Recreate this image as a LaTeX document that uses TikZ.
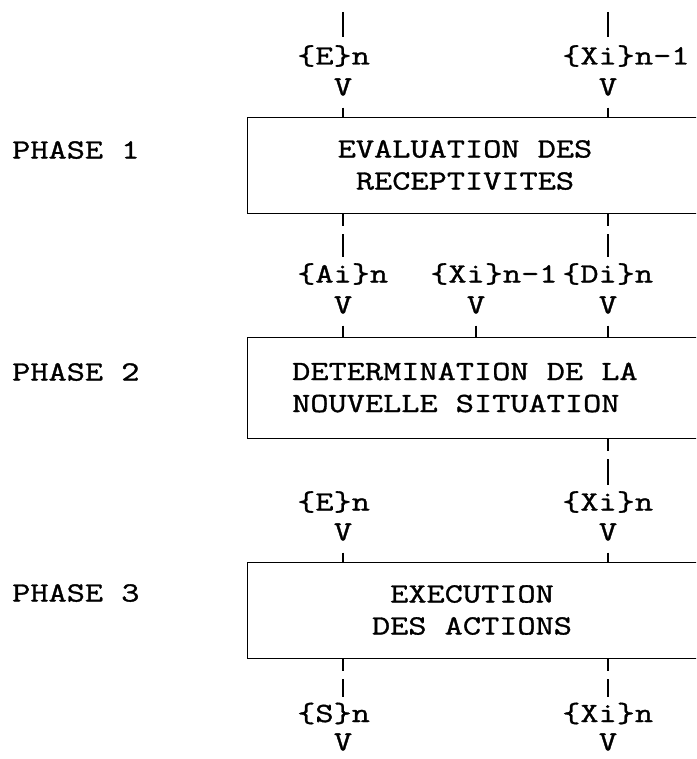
\documentclass[tikz,border=0pt]{standalone}
\usepackage{fontspec}
\setmonofont{Latin Modern Mono}[FakeStretch=1.27,FakeBold=1.2]
\usepackage{tikz}
\usetikzlibrary{arrows,shapes}
\tikzstyle{typed}=[font=\ttfamily\fontsize{27.8pt}{32pt}\selectfont,inner sep=0pt]
\tikzstyle{phase box}=[draw,line width=1.4pt,rectangle,minimum width=500pt,anchor=north west]
\tikzstyle{box text}=[typed,align=center]
\tikzstyle{flow label}=[typed,anchor=base west]
\tikzstyle{vee}=[typed,outer sep=12pt]
\tikzstyle{last vee}=[typed]
\tikzstyle{edge}=[draw,line width=1.5pt,-]
\tikzstyle{broken edge}=[edge,dash pattern=on 12pt off 8pt on 200pt off 10pt,shorten >=6pt]

\begin{document}
\begin{tikzpicture}[x=1pt,y=-1pt]
    \useasboundingbox (0,0) rectangle (696,759);
    \clip (0,0) rectangle (696,759);
    % The three phases, their boxes run off the right side
    \node[phase box,minimum height=96pt] (box1) at (247,117) {};
    \node[phase box,minimum height=101pt] (box2) at (247,337) {};
    \node[phase box,minimum height=96pt] (box3) at (247,562) {};
    \node[box text] (txt1) at (465,165) {EVALUATION DES\\RECEPTIVITES};
    \node[box text,align=left,anchor=west] (txt2) at (292,387.5) {DETERMINATION DE LA\\NOUVELLE SITUATION};
    \node[box text] (txt3) at (472,610) {EXECUTION\\DES ACTIONS};
    \foreach \y/\n in {150/1, 372/2, 593/3}
        \node[typed,anchor=west] (phase\n) at (12,\y) {PHASE \n};

    % Then the flow labels and the typed arrow heads
    \foreach \pos/\name/\txt in {{(297,64.5)/E_1/\{E\}n}, {(562,64.5)/X_1/\{Xi\}n-1},
        {(297,282.5)/A_2/\{Ai\}n}, {(430,282.5)/X_2/\{Xi\}n-1}, {(562,282.5)/D_2/\{Di\}n},
        {(297,510.5)/E_3/\{E\}n}, {(562,510.5)/X_3/\{Xi\}n},
        {(297,722)/S_4/\{S\}n}, {(562,722)/X_4/\{Xi\}n}}
        \node[flow label] (\name) at \pos {\txt};
    \foreach \pos/\name in {{(343,87)/vE_1}, {(608,87)/vX_1}, {(343,305)/vA_2}, {(476,305)/vX_2},
        {(608,305)/vD_2}, {(343,532)/vE_3}, {(608,532)/vX_3}}
        \node[vee] (\name) at \pos {V};
    \foreach \pos/\name in {{(343,742)/vS_4}, {(608,742)/vX_4}}
        \node[last vee] (\name) at \pos {V};

    % Connect everything with the typed lines
    \coordinate (in_E) at (343,12);
    \coordinate (in_X) at (608,12);
    \path[edge,shorten >=8pt] (in_E) -- (vE_1 |- E_1.north);
    \path[edge,shorten >=8pt] (in_X) -- (vX_1 |- X_1.north);
    \foreach \v/\b in {vE_1/box1, vX_1/box1, vA_2/box2, vX_2/box2, vD_2/box2, vE_3/box3, vX_3/box3}
        \path[edge] (\v) -- (\v |- \b.north);
    \foreach \v/\l/\b in {vA_2/A_2/box1, vD_2/D_2/box1, vX_3/X_3/box2, vS_4/S_4/box3, vX_4/X_4/box3}
        \path[broken edge] (\v |- \b.south) -- (\v |- \l.north);
\end{tikzpicture}
\end{document}
